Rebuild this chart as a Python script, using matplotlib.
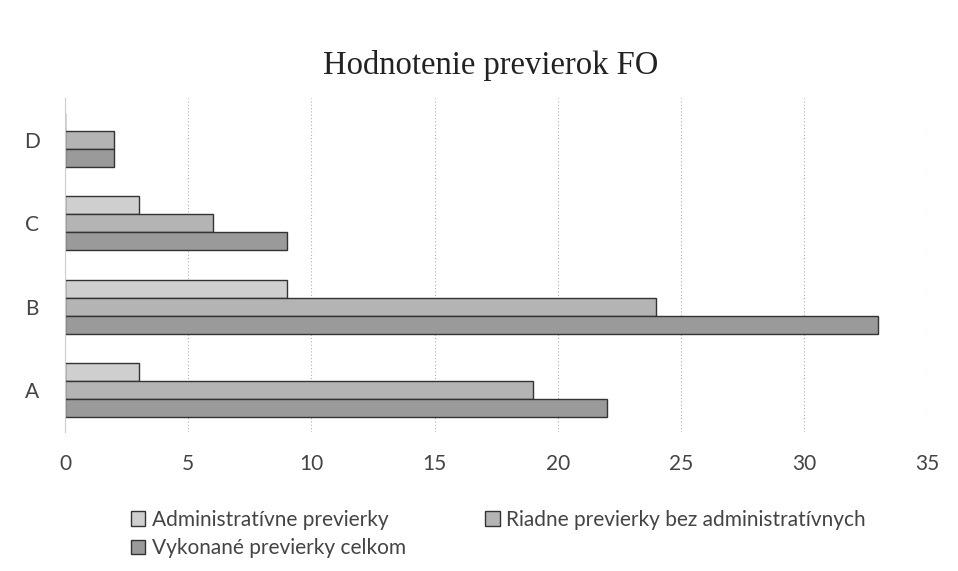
import numpy as np
import matplotlib
matplotlib.use('Agg')
import matplotlib.pyplot as plt

# data
categories = ['A', 'B', 'C', 'D']
admin = [3, 9, 3, 0]
riadne = [19, 24, 6, 2]
celkom = [22, 33, 9, 2]
labels = ['Administratívne previerky',
          'Riadne previerky bez administratívnych',
          'Vykonané previerky celkom']
xticks = [0, 5, 10, 15, 20, 25, 30, 35]

FONT = ['Lato', 'DejaVu Sans']

fig = plt.figure(figsize=(9.58, 5.71), dpi=100)
ax = fig.add_axes([0.068, 0.244, 0.900, 0.584])

y = np.arange(len(categories))
h = 0.215
colors = ['#cfcfcf', '#b4b4b4', '#9a9a9a']
series = [admin, riadne, celkom]
offsets = [h, 0, -h]
bars = []
for vals, off, col, lab in zip(series, offsets, colors, labels):
    b = ax.barh(y + off, vals, height=h, color=col, edgecolor='#333333',
                linewidth=1.0, label=lab, zorder=2)
    bars.append(b)

ax.set_xlim(0, 35)
ax.set_ylim(-0.5, 3.5)
ax.set_xticks(xticks)
ax.set_yticks(y)
ax.set_yticklabels(categories)
ax.grid(axis='x', color='#b0b0b0', linestyle=(0, (1, 2)), linewidth=0.8, zorder=0)
for s in ['top', 'right', 'bottom']:
    ax.spines[s].set_visible(False)
ax.spines['left'].set_color('#cccccc')
ax.tick_params(length=0, labelcolor='#444444', labelsize=15, pad=16)
ax.tick_params(axis='y', pad=24)
for t in ax.get_yticklabels():
    t.set_horizontalalignment('center')
for t in ax.get_xticklabels() + ax.get_yticklabels():
    t.set_family(FONT)

fig.text(0.512, 0.886, 'Hodnotenie previerok FO', ha='center', va='center',
         family='Liberation Serif', fontsize=23.5, color='#222222')

# legend fills column-wise, so order to get admin, riadne on first row
order = [0, 2, 1]
leg = fig.legend([bars[i] for i in order], [labels[i] for i in order],
                 loc='upper left', bbox_to_anchor=(0.117, 0.14), ncol=2,
                 frameon=False, handlelength=0.7, handleheight=0.7,
                 handletextpad=0.3, columnspacing=3.8, labelspacing=0.4,
                 prop={'family': FONT, 'size': 15})
for t in leg.get_texts():
    t.set_color('#444444')
fig.savefig('out.png', dpi=100)
